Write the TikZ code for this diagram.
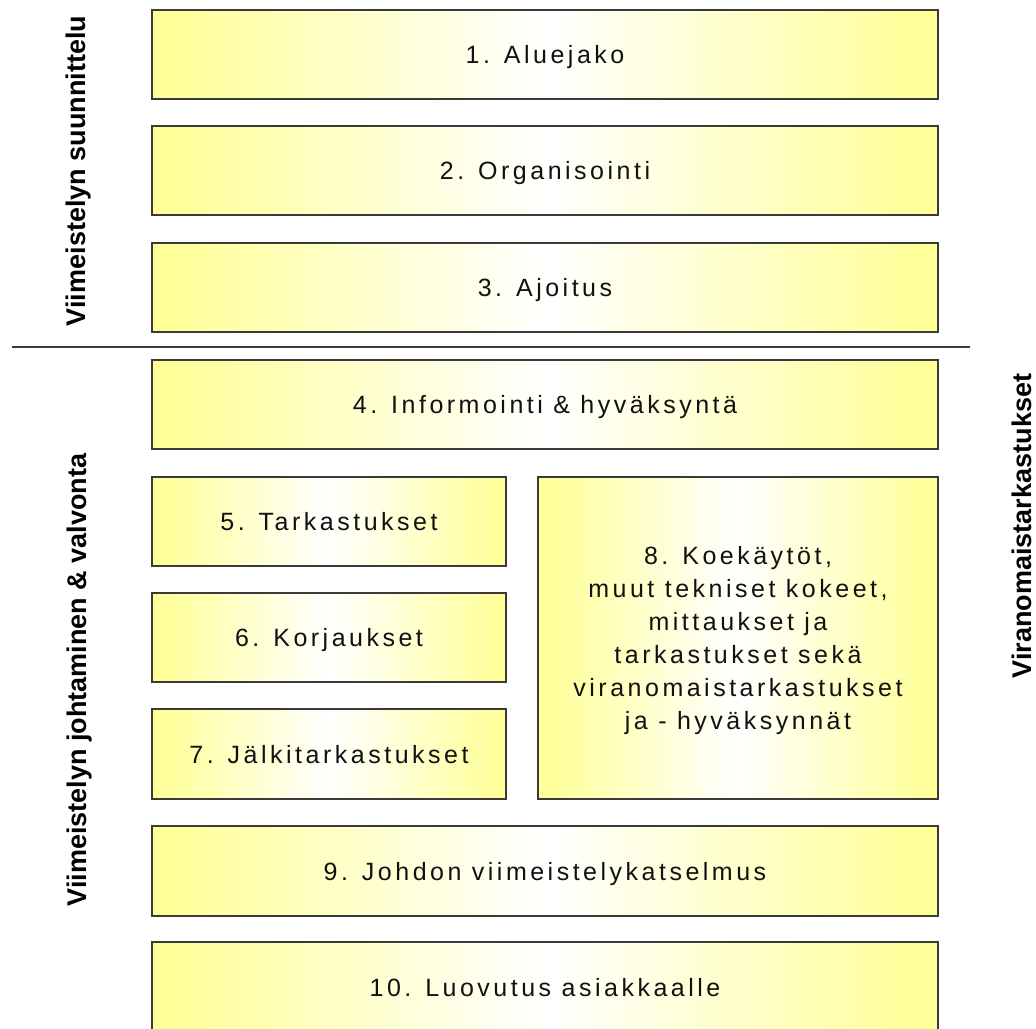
\documentclass[tikz,border=0pt]{standalone}
\usepackage{fontspec}
\setmainfont{Liberation Sans}
\newfontfamily\boxfont[LetterSpace=14]{Liberation Sans}
\usetikzlibrary{positioning}
\definecolor{boxyellow}{HTML}{FFFF94}
\definecolor{edgegray}{HTML}{3A3A3A}
\definecolor{inkblack}{HTML}{111111}
\tikzset{
  stagebox/.style={draw=edgegray, line width=1.5pt, anchor=north west,
    left color=boxyellow, right color=boxyellow, middle color=white,
    inner sep=0pt, outer sep=0pt, align=center, text=inkblack,
    font=\boxfont\fontsize{25}{33}\selectfont,
    text height=18pt, text depth=0pt},
  sidelabel/.style={rotate=90, font=\bfseries\fontsize{27}{30}\selectfont, text=black}
}
\begin{document}
\begin{tikzpicture}[x=1pt, y=-1pt]
  \useasboundingbox (0,0) rectangle (1036,1028);
  % planning phase
  \node[stagebox, minimum width=786pt, minimum height=89pt] (b1) at (152,10) {1. Aluejako};
  \node[stagebox, minimum width=786pt, minimum height=89pt] (b2) at (152,126) {2. Organisointi};
  \node[stagebox, minimum width=786pt, minimum height=89pt] (b3) at (152,243) {3. Ajoitus};
  % divider between phases
  \coordinate (divL) at (12,347);
  \coordinate (divR) at (970,347);
  \draw[edgegray, line width=1.2pt] (divL) -- (divR);
  % management and supervision phase
  \node[stagebox, minimum width=786pt, minimum height=89pt] (b4) at (152,360) {4. Informointi \& hyväksyntä};
  \node[stagebox, minimum width=354pt, minimum height=89pt] (b5) at (152,477) {5. Tarkastukset};
  \node[stagebox, minimum width=354pt, minimum height=89pt] (b6) at (152,593) {6. Korjaukset};
  \node[stagebox, minimum width=354pt, minimum height=90pt] (b7) at (152,709) {7. Jälkitarkastukset};
  % six-line box: height spans cap top of the first line to the last baseline
  \node[stagebox, minimum width=400pt, minimum height=322pt, text height=183pt, text depth=0pt] (b8) at (538,477)
    {8. Koekäytöt,\\muut tekniset kokeet,\\mittaukset ja\\tarkastukset sekä\\viranomaistarkastukset\\ja - hyväksynnät};
  \node[stagebox, minimum width=786pt, minimum height=90pt] (b9) at (152,826) {9. Johdon viimeistelykatselmus};
  \node[stagebox, minimum width=786pt, minimum height=90pt] (b10) at (152,942) {10. Luovutus asiakkaalle};
  % side labels
  \node[sidelabel] (l1) at (79,171) {Viimeistelyn suunnittelu};
  \node[sidelabel] (l2) at (80,680) {Viimeistelyn johtaminen \& valvonta};
  \node[sidelabel] (l3) at (1022,526) {Viranomaistarkastukset};
\end{tikzpicture}
\end{document}
